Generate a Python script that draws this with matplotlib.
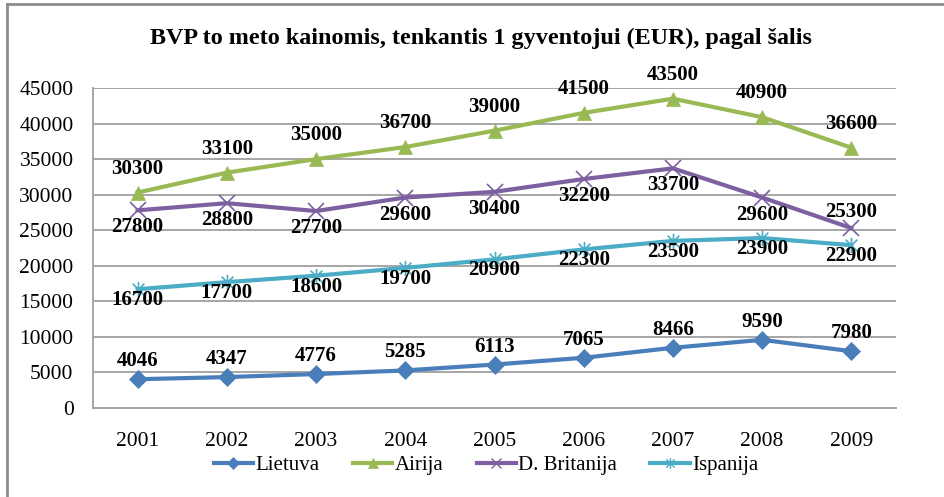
import matplotlib
matplotlib.use("Agg")
import matplotlib.pyplot as plt
from matplotlib.lines import Line2D
from matplotlib.path import Path
import numpy as np

years = ["2001", "2002", "2003", "2004", "2005", "2006", "2007", "2008", "2009"]
lietuva = [4046, 4347, 4776, 5285, 6113, 7065, 8466, 9590, 7980]
airija = [30300, 33100, 35000, 36700, 39000, 41500, 43500, 40900, 36600]
britanija = [27800, 28800, 27700, 29600, 30400, 32200, 33700, 29600, 25300]
ispanija = [16700, 17700, 18600, 19700, 20900, 22300, 23500, 23900, 22900]

plt.rcParams["font.family"] = ["Liberation Serif", "DejaVu Serif"]

# star marker: an x with a vertical bar through it
star = Path([(-1, -1), (1, 1), (-1, 1), (1, -1), (0, -1.3), (0, 1.3)],
            [Path.MOVETO, Path.LINETO, Path.MOVETO, Path.LINETO, Path.MOVETO, Path.LINETO])

series = [
    ("Lietuva", lietuva, "#4A7EBB", "D", 9, 18),
    ("Airija", airija, "#98B954", "^", 10, 24),
    ("D. Britanija", britanija, "#7D60A0", "x", 11, -17),
    ("Ispanija", ispanija, "#4BACC6", star, 11, -11),
]

fig = plt.figure(figsize=(9.44, 4.97), dpi=100)
ax = fig.add_axes([93 / 944, 89 / 497, 803 / 944, 320 / 497])

x = np.arange(len(years))
handles = []
for name, vals, col, mk, ms, off in series:
    thin = (mk == "x") or (mk is star)
    ax.plot(x, vals, color=col, lw=3, marker=mk, markersize=ms,
            markeredgewidth=1.2 if thin else 0.5, markeredgecolor=col, zorder=3)
    handles.append(Line2D([], [], color=col, lw=3, marker=mk, markersize=ms * 0.7,
                          markeredgewidth=1.0 if thin else 0.5, markeredgecolor=col,
                          label=name))
    for i, v in enumerate(vals):
        dy = off
        if name == "D. Britanija" and i == len(vals) - 1:
            dy = 16
        ax.annotate(str(v), (x[i], v), xytext=(0, dy), textcoords="offset pixels",
                    ha="center", va="center", fontsize=15, fontweight="bold",
                    color="black", zorder=4)

ax.set_xlim(-0.5, len(years) - 0.5)
ax.set_ylim(0, 45000)
ax.set_yticks(np.arange(0, 45001, 5000))
ax.set_xticks(x)
ax.set_xticklabels(years)
ax.tick_params(axis="both", length=0, labelsize=15.5)
ax.tick_params(axis="x", pad=17)
ax.tick_params(axis="y", pad=14)
ax.yaxis.grid(True, color="#A6A6A6", lw=1.4)
ax.set_axisbelow(True)
for s in ["top", "right"]:
    ax.spines[s].set_visible(False)
for s in ["left", "bottom"]:
    ax.spines[s].set_color("#A6A6A6")
    ax.spines[s].set_linewidth(1.4)

fig.text(481 / 944, 1 - 38 / 497, "BVP to meto kainomis, tenkantis 1 gyventojui (EUR), pagal šalis",
         ha="center", va="center", fontsize=17.4, fontweight="bold")

fig.legend(handles=handles, loc="center", bbox_to_anchor=(486 / 944, 1 - 465 / 497), ncol=4,
           frameon=False, fontsize=15, handlelength=1.9, handletextpad=0.1,
           columnspacing=1.6, borderaxespad=0)

# frame edges along the top and left
fig.add_artist(Line2D([7 / 944, 1], [1 - 4 / 497, 1 - 4 / 497], color="#8C8C8C", lw=2))
fig.add_artist(Line2D([7 / 944, 7 / 944], [0, 1 - 4 / 497], color="#8C8C8C", lw=2))

fig.savefig("out.png", dpi=100)
